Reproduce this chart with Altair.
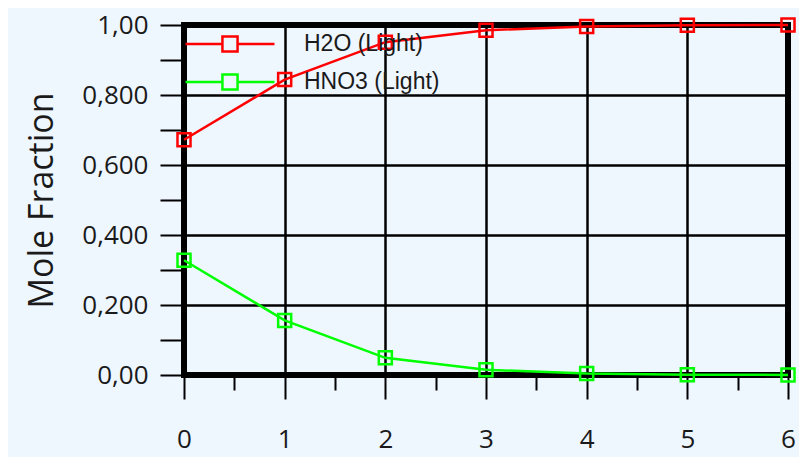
import altair as alt
import pandas as pd

steps = [0, 1, 2, 3, 4, 5, 6]
h2o = [0.672, 0.844, 0.951, 0.985, 0.996, 0.999, 1.0]
hno3 = [0.328, 0.156, 0.049, 0.015, 0.004, 0.001, 0.0003]
series = ["H2O (Light)", "HNO3 (Light)"]
colors = ["#FF0000", "#00FF00"]

df = pd.DataFrame({
    "step": steps * 2,
    "value": h2o + hno3,
    "series": [series[0]] * len(steps) + [series[1]] * len(steps),
})

W, H = 604, 350

x_vals = [i * 0.5 for i in range(13)]
y_vals = [round(i * 0.1, 1) for i in range(11)]

sym_path = "M-1,0H-0.17M0.17,0H1M-0.17,-0.17H0.17V0.17H-0.17Z"

base = alt.Chart(df).encode(
    x=alt.X("step:Q", scale=alt.Scale(domain=[0, 6], nice=False),
            axis=alt.Axis(
                values=x_vals, title=None, domain=False, labelFlush=False,
                labelExpr="datum.value % 1 == 0 ? format(datum.value, 'd') : ''",
                labelFont="Open Sans", labelFontSize=26, labelColor="#1a1a1a",
                labelPadding=27,
                tickColor="black", tickWidth=2,
                tickSize={"condition": {"test": "datum.value % 1 == 0", "value": 24}, "value": 15},
                grid=True, gridColor="black", gridWidth=2.5,
                gridOpacity={"condition": {"test": "datum.value % 1 == 0", "value": 1}, "value": 0},
            )),
    y=alt.Y("value:Q", scale=alt.Scale(domain=[0, 1], nice=False, zero=True),
            axis=alt.Axis(
                values=y_vals, title="Mole Fraction", domain=False, labelFlush=False,
                labelExpr="datum.value < 0.05 ? '0,00' : (datum.value > 0.95 ? '1,00' : (round(datum.value*10) % 2 == 0 ? '0,' + round(datum.value*1000) : ''))",
                labelFont="Open Sans", labelFontSize=26, labelColor="#1a1a1a",
                labelPadding=12,
                tickColor="black", tickWidth=2, tickSize=24,
                grid=True, gridColor="black", gridWidth=2.5,
                gridOpacity={"condition": {"test": "round(datum.value*10) % 2 == 0", "value": 1}, "value": 0},
                titleFont="Open Sans", titleFontSize=34, titleFontWeight="normal",
                titleColor="#1a1a1a", titlePadding=22,
            )),
    color=alt.Color("series:N",
                    scale=alt.Scale(domain=series, range=colors),
                    legend=alt.Legend(
                        title=None, orient="none", legendX=0, legendY=0,
                        symbolType=sym_path, symbolSize=89 * 89,
                        symbolStrokeWidth=2.5, symbolFillColor="transparent",
                        labelFont="Liberation Sans", labelFontSize=23,
                        labelColor="#1a1a1a", labelOffset=28, rowPadding=0,
                        clipHeight=38, padding=0,
                    )),
)

lines = base.mark_line(strokeWidth=2.5)
points = base.mark_point(shape="square", filled=False, size=170, strokeWidth=2.5, opacity=1)

chart = alt.layer(lines, points).properties(
    width=W, height=H,
    background="#EEF6FE",
    padding={"left": 176, "top": 17, "right": 11, "bottom": 82},
    autosize=alt.AutoSizeParams(type="none"),
).configure_view(
    stroke="black", strokeWidth=6, fill="#EEF6FE",
)

chart.save("out.html", embed_options={"renderer": "svg", "actions": False})
